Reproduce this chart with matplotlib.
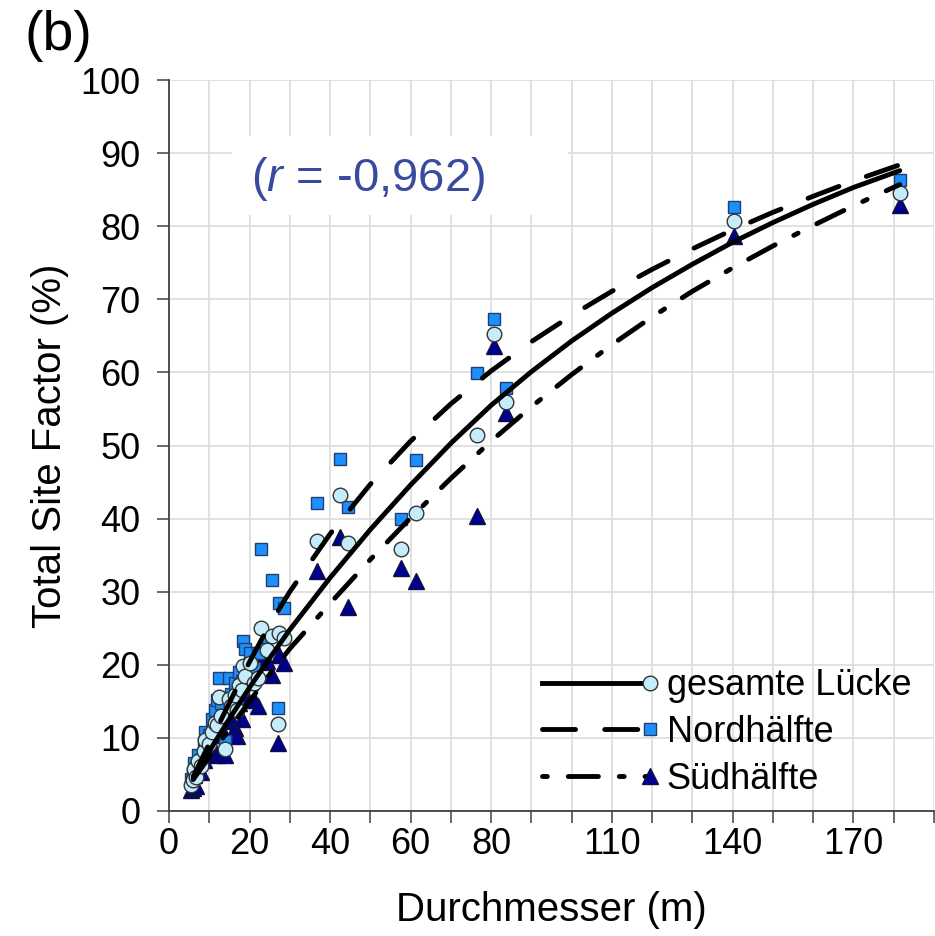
import matplotlib
matplotlib.use('Agg')
import matplotlib.pyplot as plt
from matplotlib.lines import Line2D
from matplotlib.patches import Rectangle
from matplotlib.legend_handler import HandlerLine2D

plt.rcParams['font.family'] = ['Liberation Sans', 'DejaVu Sans']
plt.rcParams['mathtext.fontset'] = 'custom'
plt.rcParams['mathtext.rm'] = 'Liberation Sans'
plt.rcParams['mathtext.it'] = 'Liberation Sans:italic'

# Messwerte je Lücke: Durchmesser (m) und Total Site Factor (%)
durchmesser = [5.5, 6.0, 6.3, 6.8, 7.3, 8.0, 8.6, 9.0, 10.0, 10.8, 11.5, 11.9,
               12.3, 12.8, 13.9, 14.8, 15.5, 16.4, 16.8, 17.5, 18.1, 18.3,
               18.8, 20.2, 21.0, 22.2, 22.9, 24.3, 25.6, 27.0, 27.2, 28.5,
               36.7, 42.5, 44.5, 57.7, 61.3, 76.6, 80.6, 83.8, 140.3, 181.6]
tsf_gesamt = [3.6, 4.2, 5.8, 4.6, 6.9, 6.2, 8.2, 9.7, 9.2, 10.8, 12.0, 11.8,
              15.6, 13.0, 8.5, 15.3, 14.4, 15.9, 13.8, 17.2, 16.6, 19.8,
              18.5, 20.3, 17.5, 18.2, 25.1, 22.0, 24.0, 11.9, 24.4, 23.7,
              37.0, 43.2, 36.7, 35.8, 40.7, 51.4, 65.3, 55.9, 80.7, 84.5]
tsf_nord = [4.4, 5.2, 6.5, 5.6, 7.6, 7.0, 9.3, 10.8, 10.4, 12.6, 13.8, 15.2,
            18.2, 14.8, 9.6, 18.2, 16.0, 17.5, 15.4, 19.0, 17.8, 23.2,
            22.2, 21.6, 19.6, 21.6, 35.9, 23.8, 31.6, 14.1, 28.4, 27.8,
            42.2, 48.1, 41.6, 39.9, 48.0, 59.9, 67.3, 57.8, 82.6, 86.3]
tsf_sued = [2.9, 3.1, 4.9, 3.4, 6.0, 5.3, 7.0, 8.4, 7.9, 9.0, 10.4, 7.6,
            12.5, 11.3, 7.6, 12.3, 12.6, 11.3, 10.3, 14.8, 12.6, 16.5,
            15.4, 17.6, 15.2, 14.3, 20.4, 20.5, 18.6, 9.3, 21.4, 20.3,
            32.8, 37.5, 27.9, 33.3, 31.5, 40.4, 63.6, 54.5, 78.7, 82.9]

# Trendlinien
fit_x = [6, 10, 15, 20, 25, 30, 40, 50, 60, 70, 80, 90, 100, 110, 120,
         130, 140, 150, 160, 170, 181.5]
fit_gesamt = [4.5, 8.2, 12.6, 16.9, 20.9, 24.8, 31.9, 38.5, 44.6, 50.3, 55.5,
              60.1, 64.3, 68.1, 71.6, 74.8, 77.8, 80.5, 83.0, 85.3, 87.6]
fit_nord = [4.7, 9.2, 14.8, 20.4, 25.5, 30.0, 37.9, 44.7, 50.6, 55.7, 60.2,
            64.2, 67.8, 71.1, 74.1, 76.9, 79.5, 81.9, 84.1, 86.2, 88.4]
fit_sued = [4.3, 7.4, 11.2, 15.0, 18.7, 22.2, 28.4, 34.4, 40.1, 45.5, 50.6,
            55.3, 59.7, 63.8, 67.6, 71.1, 74.3, 77.3, 80.1, 82.8, 85.7]

x_ticks = list(range(0, 191, 10))
x_labels_shown = [0, 20, 40, 60, 80, 110, 140, 170]
y_ticks = list(range(0, 101, 10))

labels = ['gesamte Lücke', 'Nordhälfte', 'Südhälfte']


class EndMarkerHandler(HandlerLine2D):
    # Linie über die ganze Breite, Marker am rechten Ende (wie in Excel)
    def create_artists(self, legend, orig_handle, xdescent, ydescent,
                       width, height, fontsize, trans):
        y = height / 2 - ydescent
        ln = Line2D([-xdescent, width - xdescent], [y, y])
        self.update_prop(ln, orig_handle, legend)
        ln.set_marker('None')
        mk = Line2D([width - xdescent], [y])
        self.update_prop(mk, orig_handle, legend)
        mk.set_linestyle('None')
        ln.set_transform(trans)
        mk.set_transform(trans)
        return [ln, mk]


fig = plt.figure(figsize=(9.35, 9.36), dpi=100)
ax = fig.add_axes([169 / 935, 125 / 936, 765 / 935, 731 / 936])

lw = 3.5
styles = {
    'gesamt': dict(marker='o', ms=10.5, mfc='#c4ecfa', mec='#333333', mew=1.0),
    'nord': dict(marker='s', ms=8.8, mfc='#1e8fff', mec='#1f3f6f', mew=1.0),
    'sued': dict(marker='^', ms=12, mfc='#00008f', mec='#10103a', mew=1.0),
}

ax.plot(durchmesser, tsf_sued, linestyle='None', zorder=2, **styles['sued'])
ax.plot(durchmesser, tsf_nord, linestyle='None', zorder=2.1, **styles['nord'])
ax.plot(durchmesser, tsf_gesamt, linestyle='None', zorder=2.2, **styles['gesamt'])

ax.plot(fit_x, fit_gesamt, color='black', lw=lw, solid_capstyle='round',
        solid_joinstyle='round', zorder=3)
ax.plot(fit_x, fit_nord, color='black', lw=lw, dashes=(6.8, 6.0),
        dash_capstyle='round', dash_joinstyle='round', zorder=3)
ax.plot(fit_x, fit_sued, color='black', lw=lw, dashes=(6.2, 4.3, 1.0, 4.3),
        dash_capstyle='round', dash_joinstyle='round', zorder=3)

h1 = Line2D([], [], color='black', lw=lw, **styles['gesamt'])
h2 = Line2D([], [], color='black', lw=lw, dashes=(6.8, 6.0),
            dash_capstyle='round', **styles['nord'])
h3 = Line2D([], [], color='black', lw=lw, dashes=(1.0, 4.3, 6.2, 4.3),
            dash_capstyle='round', **styles['sued'])

leg = ax.legend([h1, h2, h3], labels, loc='upper left',
                bbox_to_anchor=(0.4876, 0.195), frameon=False, fontsize=26,
                handlelength=3.0, handletextpad=0.45, labelspacing=0.32,
                borderpad=0, borderaxespad=0,
                handler_map={Line2D: EndMarkerHandler()})
leg.set_zorder(4)

# weißer Kasten hinter dem Korrelationskoeffizienten
ax.add_patch(Rectangle((15.7, 81.6), 83.3, 10.7, facecolor='white',
                       edgecolor='none', zorder=1))
ax.text(20.4, 86.5, r'($r$ = -0,962)', color='#3a4a9f', fontsize=34,
        ha='left', va='center', zorder=4)

ax.set_xlim(0, 190)
ax.set_ylim(0, 100)
ax.set_xticks(x_ticks)
ax.set_xticklabels([str(v) if v in x_labels_shown else '' for v in x_ticks])
ax.set_yticks(y_ticks)
ax.grid(True, color='#dcdcdc', lw=1.2)
ax.set_axisbelow(True)

for side in ['top', 'right']:
    ax.spines[side].set_visible(False)
for side in ['left', 'bottom']:
    ax.spines[side].set_color('#404040')
    ax.spines[side].set_linewidth(1.3)

ax.tick_params(axis='both', direction='out', length=8.6, width=1.1,
               color='#404040', labelsize=26)
ax.tick_params(axis='y', pad=12)
ax.tick_params(axis='x', pad=3)

ax.set_xlabel('Durchmesser (m)', fontsize=29, labelpad=21)
ax.set_ylabel('Total Site Factor (%)', fontsize=29, labelpad=8)

fig.text(25 / 935, 1 - 36 / 936, '(b)', fontsize=40, ha='left', va='center')

fig.savefig('out.png', dpi=100)
plt.close(fig)
